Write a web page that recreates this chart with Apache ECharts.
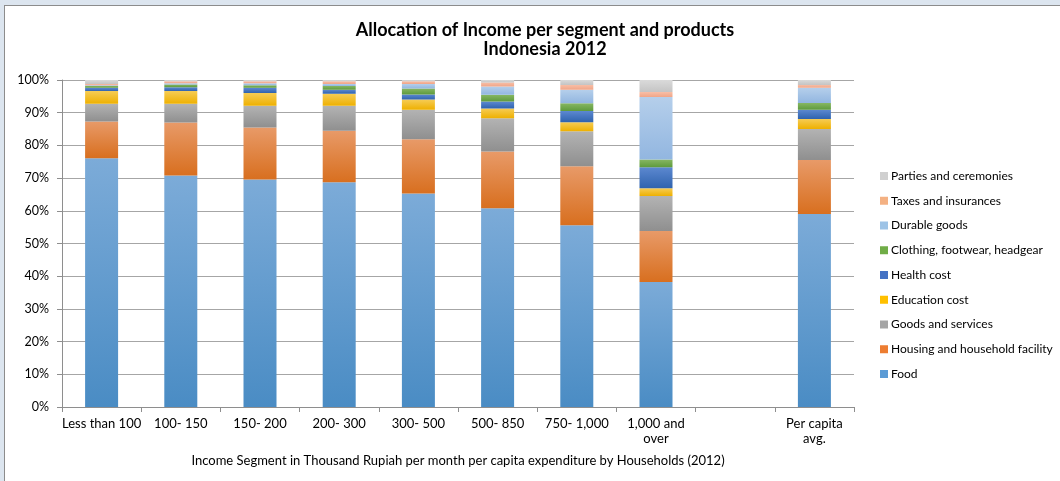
<!DOCTYPE html>
<html>
<head>
<meta charset="utf-8">
<title>Allocation of Income per segment and products</title>
<script src="https://cdn.jsdelivr.net/npm/echarts@6/dist/echarts.min.js"></script>
<style>
  html, body { margin: 0; padding: 0; width: 1060px; height: 481px; background: #dce5ef; overflow: hidden; }
  #frame { position: absolute; left: 4px; top: 5px; width: 1060px; height: 481px; background: #fff; border-left: 1px solid #8c8c8c; border-top: 1px solid #8c8c8c; }
  #chart { position: absolute; left: -5px; top: -6px; width: 1060px; height: 481px; }
</style>
</head>
<body>
<div id="frame"><div id="chart"></div></div>
<script>
// Income segments (thousand Rupiah per month per capita); one empty slot before the average
const categories = ['Less than 100', '100- 150', '150- 200', '200- 300', '300- 500', '500- 850', '750- 1,000', '1,000 and\nover', '', 'Per capita\navg.'];

// Share of spending per product group, in percent
const food       = [76.1, 70.8, 69.6, 68.7, 65.3, 60.8, 55.6, 38.2, null, 59.0];
const housing    = [11.2, 16.2, 15.9, 15.8, 16.6, 17.3, 18.0, 15.6, null, 16.5];
const goods      = [5.4, 5.7, 6.6, 7.6, 9.0, 10.2, 10.7, 10.7, null, 9.5];
const education  = [3.9, 3.9, 3.9, 3.7, 3.1, 3.0, 2.8, 2.4, null, 3.1];
const health     = [1.0, 1.2, 1.6, 1.2, 1.6, 2.1, 3.4, 6.4, null, 2.8];
const clothing   = [0.6, 0.8, 0.8, 1.2, 1.8, 2.1, 2.4, 2.4, null, 2.1];
const durable    = [0.2, 0.4, 0.6, 0.6, 1.4, 2.5, 4.1, 19.1, null, 4.6];
const taxes      = [0.4, 0.6, 0.6, 0.8, 0.8, 1.2, 1.5, 1.5, null, 0.9];
const parties    = [1.2, 0.4, 0.4, 0.4, 0.4, 0.8, 1.5, 3.7, null, 1.5];

const yTicks = [0, 10, 20, 30, 40, 50, 60, 70, 80, 90, 100];

const FONT = 'Lato';

// name, values, flat colour, gradient top, gradient bottom
const groups = [
  ['Food', food, '#5b9bd5', '#7cabd8', '#4a8cc4'],
  ['Housing and household facility', housing, '#ed7d31', '#e89a68', '#d86f1f'],
  ['Goods and services', goods, '#a5a5a5', '#b3b3b3', '#8f8f8f'],
  ['Education cost', education, '#ffc000', '#f6cc55', '#eeb000'],
  ['Health cost', health, '#4472c4', '#5c88d0', '#2f63ae'],
  ['Clothing, footwear, headgear', clothing, '#70ad47', '#87b763', '#5e9a3c'],
  ['Durable goods', durable, '#9dc3e6', '#b5cfeb', '#92b6e0'],
  ['Taxes and insurances', taxes, '#f4b183', '#f8bea6', '#f0a587'],
  ['Parties and ceremonies', parties, '#d0d0d0', '#dadada', '#c4c4c4']
];

const series = groups.map(([name, values, flat, top, bottom]) => ({
  name: name,
  type: 'bar',
  stack: 'total',
  barWidth: 33,
  data: values,
  itemStyle: {
    color: {
      type: 'linear', x: 0, y: 0, x2: 0, y2: 1,
      colorStops: [{ offset: 0, color: top }, { offset: 1, color: bottom }]
    }
  },
  emphasis: { disabled: true }
}));

const chart = echarts.init(document.getElementById('chart'), null, { renderer: 'canvas' });
chart.setOption({
  animation: false,
  backgroundColor: 'transparent',
  textStyle: { fontFamily: FONT },
  title: {
    text: 'Allocation of Income per segment and products\nIndonesia 2012',
    left: 540, top: 16, textAlign: 'center',
    textStyle: { fontFamily: FONT, fontSize: 18, fontWeight: 'bold', color: '#000', lineHeight: 19 }
  },
  legend: {
    orient: 'vertical',
    left: 875, top: 165,
    itemWidth: 8, itemHeight: 8, itemGap: 12.75,
    icon: 'rect',
    data: groups.map(g => ({ name: g[0], itemStyle: { color: g[2] } })).reverse(),
    textStyle: { fontFamily: FONT, fontSize: 12, color: '#000', padding: [0, 0, 0, -2] },
    selectedMode: false
  },
  grid: { left: 62, right: 206, top: 80, bottom: 74, containLabel: false },
  xAxis: {
    type: 'category',
    data: categories,
    name: 'Income Segment in Thousand Rupiah per month per capita expenditure by Households (2012)',
    nameLocation: 'middle',
    nameGap: 47,
    nameTextStyle: { fontFamily: FONT, fontSize: 13, color: '#000' },
    axisLine: { lineStyle: { color: '#8e8e8e' } },
    axisTick: { show: true, interval: 0, length: 5, lineStyle: { color: '#8e8e8e' } },
    axisLabel: { interval: 0, fontFamily: FONT, fontSize: 13, color: '#000', margin: 9, lineHeight: 15 }
  },
  yAxis: {
    type: 'value',
    min: yTicks[0], max: yTicks[yTicks.length - 1], interval: 10,
    axisLine: { show: true, lineStyle: { color: '#8e8e8e' } },
    axisTick: { show: true, length: 5, lineStyle: { color: '#8e8e8e' } },
    axisLabel: { formatter: '{value}%', fontFamily: FONT, fontSize: 12.5, color: '#000', margin: 13 },
    splitLine: { lineStyle: { color: '#a6a6a6', width: 1 } }
  },
  series: series
});
</script>
</body>
</html>
